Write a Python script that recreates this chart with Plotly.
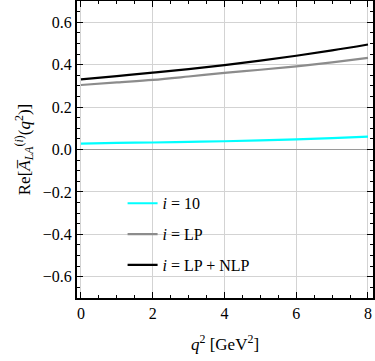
import plotly.graph_objects as go

# q^2 in GeV^2
q2 = [0, 1, 2, 3, 4, 5, 6, 7, 8]

# Re[A_LA^(i)(q^2)]
re_a10 = [0.028, 0.031, 0.033, 0.036, 0.039, 0.043, 0.048, 0.054, 0.061]
re_lp = [0.304, 0.316, 0.328, 0.344, 0.361, 0.376, 0.392, 0.411, 0.432]
re_lp_nlp = [0.331, 0.346, 0.362, 0.379, 0.398, 0.419, 0.442, 0.467, 0.495]

series = [
    ('<i>i</i> = 10', re_a10, '#00ffff'),
    ('<i>i</i> = LP', re_lp, '#8c8c8c'),
    ('<i>i</i> = LP + NLP', re_lp_nlp, '#000000'),
]

font = 'Liberation Serif'

fig = go.Figure()
for name, vals, col in series:
    fig.add_trace(go.Scatter(x=q2, y=vals, mode='lines', name=name, legendgroup=name,
                             line=dict(color=col, width=2.2, shape='spline')))

axis_common = dict(
    showline=True, linecolor='black', linewidth=2, mirror='allticks',
    ticks='inside', ticklen=6, tickwidth=1.2, tickcolor='black',
    showgrid=True, gridcolor='#d3d3d3', gridwidth=1, automargin=False,
    tickfont=dict(family=font, size=16, color='black'),
)

fig.update_xaxes(
    range=[-0.11, 8.14], tickvals=[0, 2, 4, 6, 8], zeroline=False,
    minor=dict(dtick=0.5, ticks='inside', ticklen=3, tickcolor='black', showgrid=False),
    title=dict(text='<i>q</i><sup>2</sup> [GeV<sup>2</sup>]', font=dict(family=font, size=17, color='black'),
               standoff=17),
    **axis_common,
)
fig.update_yaxes(
    range=[-0.7, 0.7], tickvals=[-0.6, -0.4, -0.2, 0.0, 0.2, 0.4, 0.6], tickformat='.1f',
    zeroline=True, zerolinecolor='#9a9a9a', zerolinewidth=1.3,
    minor=dict(dtick=0.05, ticks='inside', ticklen=3, tickcolor='black', showgrid=False),
    title=dict(text='Re[<i>A̅</i><sub><i>LA</i></sub><sup>(<i>i</i>)</sup>(<i>q</i><sup>2</sup>)]',
               font=dict(family=font, size=17, color='black'), standoff=8),
    **axis_common,
)

fig.update_layout(
    width=375, height=361,
    margin=dict(l=77, r=2, t=1, b=63),
    paper_bgcolor='white', plot_bgcolor='white',
    legend=dict(x=0.154, y=0.376, xanchor='left', yanchor='top',
                bgcolor='rgba(0,0,0,0)', tracegroupgap=7, itemwidth=30,
                font=dict(family=font, size=16, color='black')),
)

# drop the default body margin so the figure sits flush in the window
fig.write_html("out.html", config={'displayModeBar': False},
               post_script="document.body.style.margin='0';")
